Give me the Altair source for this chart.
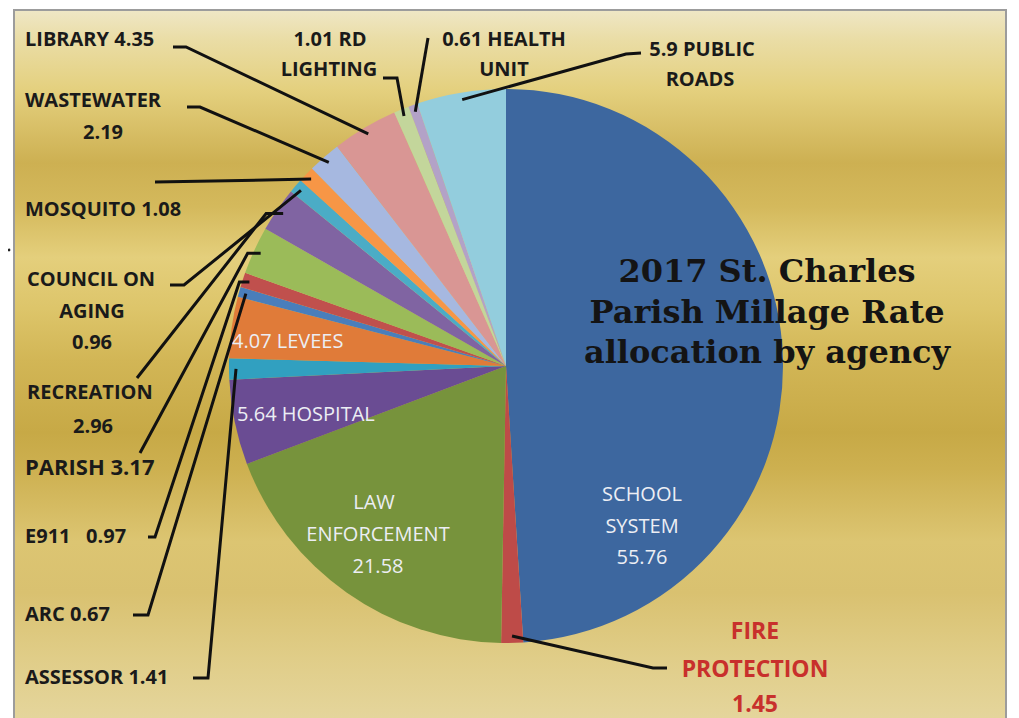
import altair as alt
import numpy as np
import pandas as pd

# ---------------- data ----------------
agencies = ["SCHOOL SYSTEM", "FIRE PROTECTION", "LAW ENFORCEMENT", "HOSPITAL",
            "ASSESSOR", "LEVEES", "ARC", "E911", "PARISH", "RECREATION",
            "COUNCIL ON AGING", "MOSQUITO", "WASTEWATER", "LIBRARY",
            "RD LIGHTING", "HEALTH UNIT", "PUBLIC ROADS"]
mills = [55.76, 1.45, 21.58, 5.64, 1.41, 4.07, 0.67, 0.97, 3.17, 2.96,
         0.96, 1.08, 2.19, 4.35, 1.01, 0.61, 5.9]
colors = ["#3D679F", "#BE4B48", "#77933C", "#6A4C93", "#31A0C0", "#E07B39",
          "#4A7EBB", "#C0504D", "#9BBB59", "#8064A2", "#4BACC6", "#F79646",
          "#A6B8E0", "#D99694", "#C3D69B", "#B3A2C7", "#93CDDD"]

title_lines = ["2017 St. Charles", "Parish Millage Rate", "allocation by agency"]

# ---------------- layout (page pixel coordinates) ----------------
W, H = 1003, 710
OFF = 8
CX, CY, R = 506, 366, 277
R_END = 270

xs = alt.Scale(domain=[OFF, OFF + W], nice=False, zero=False)
ys = alt.Scale(domain=[OFF, OFF + H], nice=False, zero=False, reverse=True)

pie_df = pd.DataFrame({"agency": agencies, "mills": mills,
                       "idx": list(range(len(agencies)))})

# slice mid angles (clockwise from 12 o'clock) derived from the values
tot = float(np.sum(mills))
cum = np.cumsum(mills)
mid_angle = {a: (c - m / 2) / tot * 2 * np.pi for a, m, c in zip(agencies, mills, cum)}


def slice_end(agency):
    t = mid_angle[agency]
    return (CX + R_END * np.sin(t), CY - R_END * np.cos(t))


# leader lines: fixed points near label, optional horizontal tick before slice end
leaders = [
    ("LIBRARY", [(173, 47), (186, 47)], 0),
    ("RD LIGHTING", [(383, 78), (397, 78)], 0),
    ("HEALTH UNIT", [(428, 38)], 0),
    ("PUBLIC ROADS", [(641, 53), (626, 54)], 0),
    ("WASTEWATER", [(187, 107), (200, 107)], 0),
    ("MOSQUITO", [(155, 182)], 0),
    ("COUNCIL ON AGING", [(170, 285), (184, 285)], 0),
    ("RECREATION", [(137, 378)], 17),
    ("PARISH", [(140, 453)], 13),
    ("E911", [(148, 537), (155, 537)], 10),
    ("ARC", [(133, 615), (148, 615)], 0),
    ("ASSESSOR", [(193, 678), (208, 678)], 0),
    ("FIRE PROTECTION", [(667, 668), (653, 668)], 0),
]
rows = []
for lid, pts, tick in leaders:
    ex, ey = slice_end(lid)
    allpts = list(pts)
    if tick:
        allpts.append((ex - tick, ey))
    allpts.append((ex, ey))
    for s, (px, py) in enumerate(allpts):
        rows.append({"lid": lid, "seq": s, "px": px, "py": py})
lead_df = pd.DataFrame(rows)

NB = "\u00a0"
out_left = pd.DataFrame([
    ("LIBRARY 4.35", 25, 40), ("WASTEWATER", 25, 101), ("MOSQUITO 1.08", 25, 210),
    ("COUNCIL ON", 27, 280), ("RECREATION", 27, 393), ("E911" + NB * 3 + "0.97", 25, 537),
    ("ARC 0.67", 25, 615), ("ASSESSOR 1.41", 25, 678),
], columns=["t", "px", "py"])
out_left_big = pd.DataFrame([("PARISH 3.17", 25, 468)], columns=["t", "px", "py"])
out_center = pd.DataFrame([
    ("1.01 RD", 330, 40), ("LIGHTING", 329, 70), ("0.61 HEALTH", 504, 40),
    ("UNIT", 504, 70), ("5.9 PUBLIC", 702, 50), ("ROADS", 700, 80),
    ("2.19", 103, 133), ("AGING", 92, 312), ("0.96", 92, 343), ("2.96", 93, 427),
], columns=["t", "px", "py"])
fire_df = pd.DataFrame([("FIRE", 755, 632), ("PROTECTION", 755, 670), ("1.45", 755, 705)],
                       columns=["t", "px", "py"])
in_center = pd.DataFrame([
    ("SCHOOL", 642, 495), ("SYSTEM", 642, 527), ("55.76", 642, 558),
    ("LAW", 374, 503), ("ENFORCEMENT", 378, 535), ("21.58", 378, 567),
], columns=["t", "px", "py"])
in_left = pd.DataFrame([("5.64 HOSPITAL", 237, 415), ("4.07 LEVEES", 232, 342)],
                       columns=["t", "px", "py"])
title_df = pd.DataFrame({"t": title_lines, "px": [767, 767, 767], "py": [272, 313, 353]})

# ---------------- marks ----------------
stops = [(0.0, "#EFE7C6"), (0.04, "#EADDA6"), (0.11, "#E4D07E"), (0.21, "#CDB052"),
         (0.27, "#D4B95C"), (0.34, "#E4CF7C"), (0.41, "#DDC56A"), (0.48, "#D2B656"),
         (0.58, "#C7A946"), (0.63, "#CDB050"), (0.73, "#DCC572"), (0.80, "#D9C170"),
         (0.89, "#E0CD88"), (1.0, "#E6D8A2")]
grad = alt.Gradient(gradient="linear", x1=0, y1=0, x2=0, y2=1,
                    stops=[alt.GradientStop(offset=o, color=c) for o, c in stops])

bg = alt.Chart(pd.DataFrame({"a": [0]})).mark_rect(
    fill=grad, stroke="#9C9C9C", strokeWidth=2
).encode(x=alt.value(6), x2=alt.value(998), y=alt.value(2), y2=alt.value(730))

pie = alt.Chart(pie_df).mark_arc(radius=R).encode(
    theta=alt.Theta("mills:Q", stack=True),
    order=alt.Order("idx:Q"),
    color=alt.Color("agency:N", scale=alt.Scale(domain=agencies, range=colors), legend=None),
    x=alt.value(CX - OFF), y=alt.value(CY - OFF),
)

lines = alt.Chart(lead_df).mark_line(color="#111111", strokeWidth=3, strokeJoin="miter").encode(
    x=alt.X("px:Q", scale=xs, axis=None),
    y=alt.Y("py:Q", scale=ys, axis=None),
    detail="lid:N", order="seq:Q",
)


def txt(df, **kw):
    return alt.Chart(df).mark_text(baseline="middle", **kw).encode(
        x=alt.X("px:Q", scale=xs, axis=None),
        y=alt.Y("py:Q", scale=ys, axis=None),
        text="t:N",
    )


lbl_font = "Open Sans"
layers = [
    bg, pie, lines,
    txt(out_left, align="left", font=lbl_font, fontWeight="bold", fontSize=20, color="#1A1A1A"),
    txt(out_left_big, align="left", font=lbl_font, fontWeight="bold", fontSize=22, color="#1A1A1A"),
    txt(out_center, align="center", font=lbl_font, fontWeight="bold", fontSize=20, color="#1A1A1A"),
    txt(fire_df, align="center", font=lbl_font, fontWeight="bold", fontSize=23, color="#C8302C"),
    txt(in_center, align="center", font=lbl_font, fontSize=20, color="#ECEEF4"),
    txt(in_left, align="left", font=lbl_font, fontSize=20, color="#ECEEF4"),
    txt(title_df, align="center", font="DejaVu Serif", fontWeight="bold", fontSize=32, color="#141414"),
    alt.Chart(pd.DataFrame({"px": [9], "py": [250]})).mark_point(
        filled=True, color="#222222", size=8, opacity=1).encode(
        x=alt.X("px:Q", scale=xs, axis=None), y=alt.Y("py:Q", scale=ys, axis=None)),
]

chart = alt.layer(*layers).properties(
    width=W, height=H, padding=0, autosize=alt.AutoSizeParams(type="none"),
    background="white",
).configure_view(stroke=None)

chart.save("out.html", embed_options={"renderer": "svg", "actions": False})
